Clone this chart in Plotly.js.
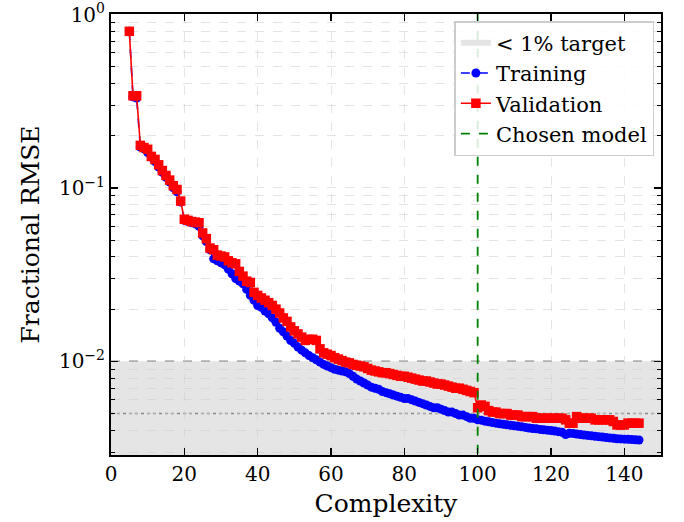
<!DOCTYPE html>
<html>
<head>
<meta charset="utf-8">
<script src="https://cdn.plot.ly/plotly-3.0.1.min.js"></script>
<style>html,body{margin:0;padding:0;background:#fff;}#chart{width:684px;height:522px;}</style>
</head>
<body>
<div id="chart"></div>
<script>
const complexity = [5,6,7,8,9,10,11,12,13,14,15,16,17,18,19,20,21,22,23,24,25,26,27,28,29,30,31,32,33,34,35,36,37,38,39,40,41,42,43,44,45,46,47,48,49,50,51,52,53,54,55,56,57,58,59,60,61,62,63,64,65,66,67,68,69,70,71,72,73,74,75,76,77,78,79,80,81,82,83,84,85,86,87,88,89,90,91,92,93,94,95,96,97,98,99,100,101,102,103,104,105,106,107,108,109,110,111,112,113,114,115,116,117,118,119,120,121,122,123,124,125,126,127,128,129,130,131,132,133,134,135,136,137,138,139,140,141,142,143,144];

const trainingRMSE = [0.80,0.335,0.330,0.172,0.168,0.160,0.150,0.142,0.132,0.123,0.115,0.108,0.100,0.095,0.083,0.065,0.064,0.063,0.062,0.060,0.053,0.049,0.044,0.039,0.038,0.037,0.036,0.034,0.032,0.030,0.029,0.028,0.026,0.024,0.0225,0.021,0.0205,0.0195,0.0188,0.0178,0.0168,0.0155,0.0148,0.0140,0.0132,0.0127,0.0121,0.0116,0.0112,0.0108,0.0105,0.0102,0.0099,0.0096,0.0094,0.0092,0.0090,0.0089,0.0088,0.0087,0.0085,0.0082,0.0079,0.0077,0.0075,0.0073,0.0071,0.0070,0.0069,0.0067,0.0066,0.0065,0.0064,0.0063,0.0062,0.0061,0.0061,0.0060,0.0059,0.0058,0.0057,0.0056,0.0055,0.0054,0.0054,0.0053,0.0052,0.0051,0.0051,0.0050,0.0049,0.0049,0.0048,0.0047,0.0047,0.0046,0.00458,0.00452,0.00448,0.00444,0.00440,0.00437,0.00434,0.00431,0.00428,0.00425,0.00422,0.00419,0.00416,0.00413,0.00410,0.00408,0.00405,0.00403,0.00401,0.00399,0.00396,0.00393,0.00390,0.00378,0.00385,0.00384,0.00381,0.00378,0.00376,0.00374,0.00372,0.00370,0.00368,0.00366,0.00364,0.00362,0.00360,0.00358,0.00357,0.00356,0.00355,0.00354,0.00353,0.00352];

const validationRMSE = [0.80,0.34,0.34,0.176,0.171,0.167,0.152,0.146,0.136,0.126,0.118,0.111,0.103,0.098,0.084,0.066,0.065,0.064,0.0635,0.063,0.055,0.051,0.045,0.044,0.041,0.0405,0.040,0.038,0.037,0.0365,0.033,0.031,0.029,0.0285,0.025,0.024,0.0232,0.0225,0.0218,0.0210,0.0200,0.0190,0.0178,0.0170,0.0158,0.0150,0.0144,0.0138,0.0132,0.0134,0.0134,0.0132,0.0118,0.0112,0.0110,0.0108,0.0105,0.0103,0.0101,0.0099,0.0098,0.0096,0.0095,0.0094,0.0093,0.0091,0.0089,0.0088,0.0087,0.0086,0.0086,0.0085,0.0084,0.0083,0.0082,0.0082,0.0081,0.0080,0.0079,0.0078,0.0077,0.0077,0.0076,0.0075,0.0074,0.0074,0.0073,0.0072,0.0071,0.0070,0.0070,0.0069,0.0068,0.0067,0.0066,0.0054,0.0056,0.0055,0.0052,0.0051,0.0051,0.0050,0.0050,0.0050,0.0049,0.0049,0.0049,0.0048,0.0048,0.0048,0.0048,0.0047,0.0047,0.0047,0.0047,0.0047,0.0047,0.0047,0.0047,0.0046,0.0044,0.0044,0.0048,0.0047,0.0047,0.0047,0.0047,0.0046,0.0046,0.0046,0.0046,0.0046,0.0045,0.0043,0.0043,0.0043,0.0044,0.0044,0.0044,0.0044];

const targetLevel = 0.01;
const halfTargetLevel = 0.005;
const chosenComplexity = 100;

const xTickVals = [0,20,40,60,80,100,120,140];
const yTickVals = [1,0.1,0.01];
const yTickText = ['10<sup>0</sup>','10<sup>\u22121</sup>','10<sup>\u22122</sup>'];
const yMinorVals = [0.003,0.004,0.005,0.006,0.007,0.008,0.009,0.02,0.03,0.04,0.05,0.06,0.07,0.08,0.09,0.2,0.3,0.4,0.5,0.6,0.7,0.8,0.9];

const FONT = 'DejaVu Serif, serif';
const shadeColor = 'rgb(229,229,229)';
const gridColor = 'rgba(205,205,205,0.55)';

const yLo = -2.54, yHi = 0.003;

const traces = [
  {
    x: [null], y: [null], type: 'scatter', mode: 'none', fill: 'toself',
    fillcolor: shadeColor, name: '< 1% target', showlegend: true, hoverinfo: 'skip'
  },
  {
    x: complexity, y: trainingRMSE, type: 'scatter', mode: 'lines+markers', name: 'Training',
    line: {color: '#0000ff', width: 1.6, dash: 'dash'},
    marker: {color: '#0000ff', symbol: 'circle', size: 9}
  },
  {
    x: complexity, y: validationRMSE, type: 'scatter', mode: 'lines+markers', name: 'Validation',
    line: {color: '#ff0000', width: 1.6},
    marker: {color: '#ff0000', symbol: 'square', size: 9.5}
  },
  {
    x: [chosenComplexity, chosenComplexity], y: [Math.pow(10, yLo - 0.2), Math.pow(10, yHi + 0.2)],
    type: 'scatter', mode: 'lines', name: 'Chosen model',
    line: {color: '#008000', width: 1.8, dash: 'dash'}, hoverinfo: 'skip'
  }
];

const layout = {
  width: 684, height: 522,
  margin: {l: 111, r: 23, t: 14, b: 67},
  paper_bgcolor: '#ffffff', plot_bgcolor: '#ffffff',
  font: {family: FONT, color: '#000000', size: 20},
  showlegend: true,
  legend: {
    x: 0.988, y: 0.984, xanchor: 'right', yanchor: 'top',
    bgcolor: 'rgba(255,255,255,0.85)', bordercolor: '#cccccc', borderwidth: 1.5,
    font: {family: FONT, size: 21, color: '#000'},
    tracegroupgap: 0, itemwidth: 30
  },
  xaxis: {
    range: [0, 150], tickmode: 'array', tickvals: xTickVals,
    ticks: 'inside', ticklen: 7, tickwidth: 1.5, tickcolor: '#000',
    showline: true, linecolor: '#000', linewidth: 2, mirror: 'ticks',
    showgrid: true, gridcolor: gridColor, griddash: 'dash', gridwidth: 1,
    zeroline: false,
    tickfont: {family: FONT, size: 20},
    title: {text: 'Complexity', font: {family: FONT, size: 25}, standoff: 9}
  },
  yaxis: {
    type: 'log', range: [yLo, yHi], tickmode: 'array', tickvals: yTickVals, ticktext: yTickText,
    ticklabeloverflow: 'allow',
    ticks: 'inside', ticklen: 7, tickwidth: 1.5, tickcolor: '#000',
    showline: true, linecolor: '#000', linewidth: 2, mirror: 'ticks',
    showgrid: true, gridcolor: gridColor, griddash: 'dash', gridwidth: 1,
    zeroline: false,
    tickfont: {family: FONT, size: 20},
    minor: {tickmode: 'array', tickvals: yMinorVals, ticks: 'inside', ticklen: 4, tickwidth: 1, tickcolor: '#000',
            showgrid: true, gridcolor: gridColor, griddash: 'dash', gridwidth: 1},
    title: {text: 'Fractional RMSE', font: {family: FONT, size: 25}, standoff: 12}
  },
  shapes: [
    {type: 'rect', xref: 'paper', yref: 'y', x0: 0, x1: 1, y0: Math.pow(10, yLo - 0.2), y1: targetLevel,
     fillcolor: shadeColor, line: {width: 0}, layer: 'below'},
    {type: 'line', xref: 'paper', yref: 'y', x0: 0, x1: 1, y0: targetLevel, y1: targetLevel,
     line: {color: '#888888', width: 1.5, dash: 'dash'}, layer: 'between'},
    {type: 'line', xref: 'paper', yref: 'y', x0: 0, x1: 1, y0: halfTargetLevel, y1: halfTargetLevel,
     line: {color: '#888888', width: 1.5, dash: 'dot'}, layer: 'between'}
  ]
};

Plotly.newPlot('chart', traces, layout, {staticPlot: true, displayModeBar: false});
</script>
</body>
</html>
